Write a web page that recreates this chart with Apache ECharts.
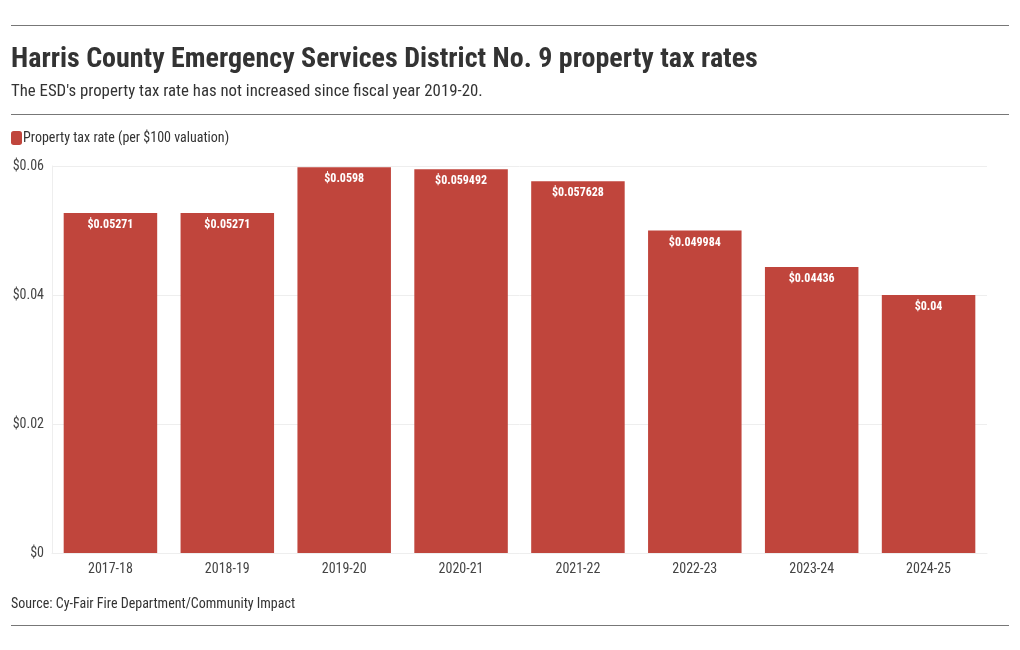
<!DOCTYPE html>
<html><head><meta charset="utf-8">
<script src="https://cdn.jsdelivr.net/npm/echarts@6/dist/echarts.min.js"></script>
<style>html,body{margin:0;padding:0;background:#fff}#c{width:1020px;height:650px}</style>
</head><body><div id="c"></div>
<script>
var categories = ['2017-18','2018-19','2019-20','2020-21','2021-22','2022-23','2023-24','2024-25'];
var taxRates = [0.05271, 0.05271, 0.0598, 0.059492, 0.057628, 0.049984, 0.04436, 0.04];
var yTicks = [0, 0.02, 0.04, 0.06];
var seriesName = 'Property tax rate (per $100 valuation)';
var FONT = '"Roboto Condensed", "Liberation Sans Narrow", "DejaVu Sans Condensed", Roboto, sans-serif';
var chart = echarts.init(document.getElementById('c'));
chart.setOption({
  animation: false,
  textStyle: {fontFamily: FONT},
  title: [
    {text: 'Harris County Emergency Services District No. 9 property tax rates', left: 11, top: 46, padding: 0,
     textStyle: {fontFamily: FONT, fontSize: 28, fontWeight: 'bold', color: '#333'}},
    {text: "The ESD's property tax rate has not increased since fiscal year 2019-20.", left: 11, top: 83, padding: 0,
     textStyle: {fontFamily: FONT, fontSize: 16.8, fontWeight: 'normal', color: '#333'}},
    {text: 'Source: Cy-Fair Fire Department/Community Impact', left: 11, top: 597, padding: 0,
     textStyle: {fontFamily: FONT, fontSize: 14, fontWeight: 'normal', color: '#333'}}
  ],
  legend: {left: 6, top: 126, itemWidth: 11, itemHeight: 14, itemGap: 10,
    icon: 'roundRect',
    textStyle: {fontFamily: FONT, fontSize: 14, color: '#333', padding: [0,0,0,-4]},
    data: [seriesName]},
  grid: {left: 52, right: 33, top: 166, bottom: 97},
  xAxis: {type: 'category', data: categories,
    axisLine: {show: true, lineStyle: {color: '#eee'}}, axisTick: {show: false},
    axisLabel: {fontFamily: FONT, fontSize: 14, color: '#444', margin: 9}},
  yAxis: {type: 'value', min: 0, max: 0.06, interval: 0.02,
    axisLine: {show: true, lineStyle: {color: '#eee'}}, axisTick: {show: false},
    splitLine: {lineStyle: {color: '#eee'}},
    axisLabel: {fontFamily: FONT, fontSize: 14, color: '#444', margin: 8,
      formatter: function(v){ return yTicks.indexOf(v) >= 0 ? '$' + v : ''; }}},
  series: [{name: seriesName, type: 'bar', data: taxRates, barCategoryGap: '20%',
    itemStyle: {color: '#c0453c'},
    label: {show: true, position: 'insideTop', distance: 6, color: '#fff', fontFamily: FONT,
      fontSize: 12, fontWeight: 'bold', formatter: function(p){ return '$' + p.value; }}}],
  graphic: [
    {type: 'line', shape: {x1: 11, y1: 25.5, x2: 1009, y2: 25.5}, style: {stroke: '#777', lineWidth: 1}},
    {type: 'line', shape: {x1: 11, y1: 114.5, x2: 1009, y2: 114.5}, style: {stroke: '#777', lineWidth: 1}},
    {type: 'line', shape: {x1: 11, y1: 625.5, x2: 1009, y2: 625.5}, style: {stroke: '#777', lineWidth: 1}}
  ]
});
</script></body></html>
